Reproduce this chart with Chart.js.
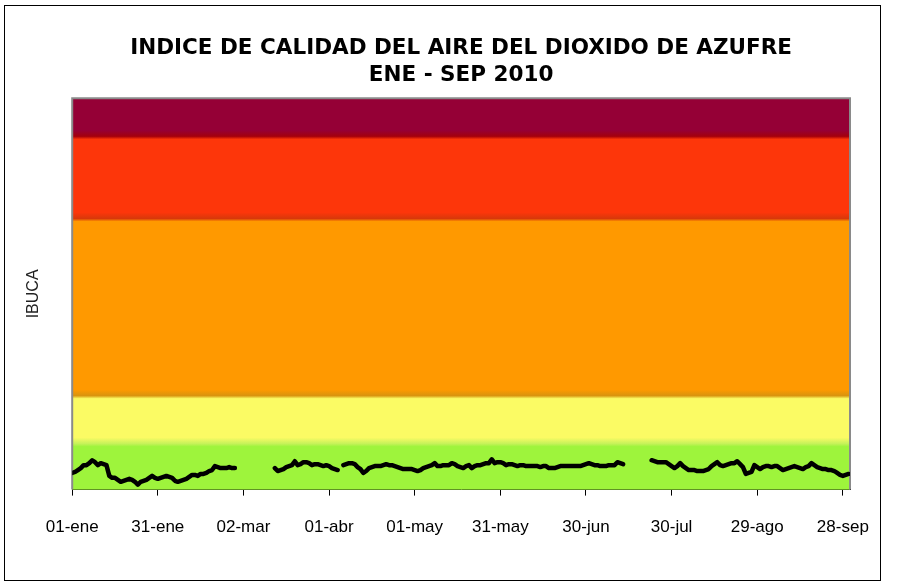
<!DOCTYPE html>
<html>
<head>
<meta charset="utf-8">
<script src="https://cdn.jsdelivr.net/npm/chart.js@4.4.1/dist/chart.umd.min.js"></script>
<style>
    html, body { margin: 0; padding: 0; background: #fff; }
    canvas { display: block; }
</style>
</head>
<body>
<canvas id="chart-ibuca" width="903" height="586"></canvas>
<script>
(function () {
    "use strict";

    // ======================================================================
    // Datos (IBUCA diario, dia 0 = 01-ene-2010)
    //
    const tickDays = [0, 30, 60, 90, 120, 150, 180, 210, 240, 270];
    const tickLabels = ['01-ene', '31-ene', '02-mar', '01-abr', '01-may', '31-may', '30-jun', '30-jul', '29-ago', '28-sep'];

    // limites de las franjas de calidad del aire
    const bandLimits = [0, 46, 95, 276, 360, 400];

    const ibucaEne = [17, 18, 20, 22, 25, 25, 27, 30, 28, 25, 27, 26, 25, 14, 12, 12, 10, 8, 9, 10, 11, 10, 8, 5, 8, 9, 10, 12, 14, 12, 11];
    const ibucaFeb = [12, 13, 14, 13, 12, 9, 8, 9, 10, 11, 13, 15, 15, 14, 16, 16, 17, 19, 20, 24, 23, 22, 22, 22, 23, 22, 22, null];
    const ibucaMar = [null, null, null, null, null, null, null, null, null, null, null, null, 22, 19, 20, 21, 23, 24, 25, 29, 25, 26, 28, 28, 27, 25, 26, 26, 25, 24, 25];
    const ibucaAbr = [24, 22, 21, 20, null, 25, 26, 27, 27, 26, 23, 21, 17, 19, 22, 23, 24, 24, 24, 25, 26, 25, 25, 24, 23, 22, 21, 21, 21, 21];
    const ibucaMay = [20, 19, 20, 22, 23, 24, 25, 27, 24, 24, 25, 25, 25, 27, 26, 24, 23, 22, 24, 25, 22, 24, 25, 25, 26, 27, 27, 31, 27, 28, 28];
    const ibucaJun = [27, 25, 26, 26, 25, 24, 25, 25, 24, 24, 24, 24, 24, 23, 24, 24, 22, 22, 22, 23, 24, 24, 24, 24, 24, 24, 24, 24, 25, 26];
    const ibucaJul = [27, 26, 25, 25, 24, 24, 24, 25, 25, 25, 28, 27, 26, null, null, null, null, null, null, null, null, null, 30, 29, 28, 28, 28, 28, 26, 24, 22];
    const ibucaAgo = [24, 27, 24, 22, 20, 20, 20, 19, 19, 19, 20, 21, 24, 26, 28, 25, 24, 25, 26, 27, 27, 29, 26, 23, 16, 17, 18, 25, 23, 21, 23];
    const ibucaSep = [24, 24, 23, 24, 24, 22, 20, 21, 22, 23, 24, 23, 22, 21, 23, 24, 27, 25, 23, 22, 21, 21, 20, 20, 19, 17, 15, 14, 15, 16];

    const ibuca = [].concat(ibucaEne, ibucaFeb, ibucaMar, ibucaAbr, ibucaMay, ibucaJun, ibucaJul, ibucaAgo, ibucaSep);

    // ======================================================================
    // Estilos de las franjas (de abajo hacia arriba)
    //
    const bandColors = ['#9ef43c', '#fbfb64', '#ff9900', '#fd360a', '#950036'];
    const edgeColors = ['#c6f25a', '#d8940e', '#d8380a', '#a4000c'];

    const bandsPlugin = {
        id: 'bandas',
        beforeDatasetsDraw(chart) {
            const { ctx, chartArea: a, scales: { y } } = chart;
            const h = a.bottom - a.top;
            const fr = px => Math.min(1, Math.max(0, (px - a.top) / h));
            const g = ctx.createLinearGradient(0, a.top, 0, a.bottom);
            let stops = [];

            bandColors.forEach((c, i) => {
                const pBot = y.getPixelForValue(bandLimits[i]),
                    pTop = y.getPixelForValue(bandLimits[i + 1]);
                stops.push([pTop + (i === bandColors.length - 1 ? 0 : 2), c]);
                stops.push([pBot - (i === 0 ? 0 : 7), c]);
            });
            edgeColors.forEach((c, j) => {
                stops.push([y.getPixelForValue(bandLimits[j + 1]) - 1, c]);
            });
            stops.sort((p, q) => p[0] - q[0]).forEach(s => g.addColorStop(fr(s[0]), s[1]));

            ctx.save();
            ctx.fillStyle = g;
            ctx.fillRect(a.left, a.top, a.right - a.left, h);

            // marco gris del area de trazado
            ctx.strokeStyle = '#8a8a8a';
            ctx.lineWidth = 2;
            ctx.beginPath();
            ctx.moveTo(a.left, a.bottom);
            ctx.lineTo(a.left, a.top);
            ctx.lineTo(a.right, a.top);
            ctx.lineTo(a.right, a.bottom);
            ctx.stroke();
            ctx.restore();
        },
        afterDraw(chart) {
            const { ctx } = chart;
            ctx.save();
            ctx.strokeStyle = '#000';
            ctx.lineWidth = 1;
            ctx.strokeRect(4.5, 5.5, 876, 575);
            ctx.restore();
        }
    };

    // ======================================================================
    // Chart
    //
    new Chart(document.getElementById('chart-ibuca'), {
        type: 'line',
        data: {
            datasets: [
                {
                    label: 'IBUCA',
                    data: ibuca.map((v, i) => ({ x: i, y: v })),
                    borderColor: '#000',
                    borderWidth: 4.5,
                    borderJoinStyle: 'round',
                    borderCapStyle: 'round',
                    pointRadius: 0,
                    tension: 0,
                    spanGaps: false
                }
            ]
        },
        options: {
            responsive: false,
            animation: false,
            layout: { padding: { top: 20, left: 20, right: 53, bottom: 26 } },
            plugins: {
                legend: { display: false },
                tooltip: { enabled: false },
                title: {
                    display: true,
                    fullSize: false,
                    text: ['INDICE DE CALIDAD DEL AIRE DEL DIOXIDO DE AZUFRE', 'ENE - SEP 2010'],
                    color: '#000',
                    font: { family: 'DejaVu Sans', size: 21.5, weight: 'bold', lineHeight: 1.26 },
                    padding: { top: 15, bottom: 9 }
                }
            },
            scales: {
                x: {
                    type: 'linear',
                    min: 0,
                    max: 272.5,
                    afterBuildTicks: s => { s.ticks = tickDays.map(v => ({ value: v })); },
                    ticks: {
                        autoSkip: false,
                        maxRotation: 0,
                        padding: 22,
                        color: '#000',
                        font: { family: 'Liberation Sans', size: 17 },
                        callback: v => tickLabels[tickDays.indexOf(v)]
                    },
                    grid: { drawOnChartArea: false, drawTicks: true, tickLength: 6, color: '#000' },
                    border: { display: true, color: '#000', width: 1 }
                },
                y: {
                    min: 0,
                    max: 400,
                    ticks: { display: false },
                    grid: { display: false, drawTicks: false },
                    border: { display: false },
                    title: {
                        display: true,
                        text: 'IBUCA',
                        color: '#222',
                        font: { family: 'Liberation Sans', size: 16 },
                        padding: { top: 4, bottom: 29 }
                    }
                }
            }
        },
        plugins: [bandsPlugin]
    });
})();
</script>
</body>
</html>
